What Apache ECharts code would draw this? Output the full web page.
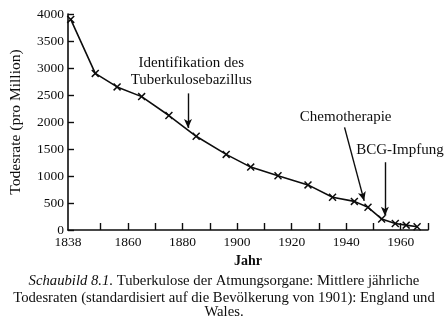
<!DOCTYPE html>
<html>
<head>
<meta charset="utf-8">
<script src="https://cdn.jsdelivr.net/npm/echarts@6/dist/echarts.min.js"></script>
<style>html,body{margin:0;padding:0;background:#fff;}#c{width:448px;height:330px;}</style>
</head>
<body>
<div id="c"></div>
<script>
const years = [1839, 1848, 1856, 1865, 1875, 1885, 1896, 1905, 1915, 1926, 1935, 1943, 1948, 1953, 1958, 1962, 1966];
const rates = [3900, 2900, 2650, 2470, 2120, 1735, 1400, 1165, 1005, 835, 605, 530, 420, 205, 120, 90, 60];
const xTickValues = [1850, 1860, 1870, 1880, 1890, 1900, 1910, 1920, 1930, 1940, 1950, 1960, 1970];
const xLabelValues = [1838, 1860, 1880, 1900, 1920, 1940, 1960];
const annotations = [
  { text: 'Identifikation des\nTuberkulosebazillus', at: [1883.2, 2925], from: [1882, 2530], to: [1882, 1890] },
  { text: 'Chemotherapie', at: [1939.8, 2090], from: [1939.4, 1900], to: [1946.6, 540] },
  { text: 'BCG-Impfung', at: [1959.7, 1475], from: [1954.2, 1255], to: [1954.2, 265] }
];
const FONT = '"Liberation Serif", "DejaVu Serif", serif';
const INK = '#0d0d0d';

const chart = echarts.init(document.getElementById('c'), null, { renderer: 'canvas' });
const xShape = 'path://M0,1.3L1.3,0L10,8.7L8.7,10Z M8.7,0L10,1.3L1.3,10L0,8.7Z';

chart.setOption({
  backgroundColor: '#fff',
  animation: false,
  grid: { left: 62, right: 20, top: 14, bottom: 100 },
  xAxis: {
    type: 'value', min: 1838, max: 1970,
    name: 'Jahr', nameLocation: 'middle', nameGap: 21,
    nameTextStyle: { fontFamily: FONT, fontSize: 14, color: INK, fontWeight: 'bold' },
    axisLine: { show: true, lineStyle: { color: INK, width: 1.6 } },
    axisTick: { show: true, inside: true, length: 7, customValues: xTickValues, lineStyle: { color: INK, width: 1.4 } },
    axisLabel: { customValues: xLabelValues, fontFamily: FONT, fontSize: 13.5, color: INK, margin: 5, formatter: v => String(v) },
    splitLine: { show: false }
  },
  yAxis: {
    type: 'value', min: 0, max: 4000, interval: 500,
    name: 'Todesrate (pro Million)', nameLocation: 'middle', nameGap: 44, nameRotate: 90,
    nameTextStyle: { fontFamily: FONT, fontSize: 15.5, color: INK },
    axisLine: { show: true, lineStyle: { color: INK, width: 1.6 } },
    axisTick: { show: true, inside: true, length: 6, lineStyle: { color: INK, width: 1.4 } },
    axisLabel: { fontFamily: FONT, fontSize: 13.5, color: INK, margin: 4, formatter: v => String(v) },
    splitLine: { show: false }
  },
  series: [{
    type: 'line',
    data: years.map((y, i) => [y, rates[i]]),
    symbol: xShape, symbolSize: 8, showAllSymbol: true,
    lineStyle: { color: INK, width: 1.6 },
    itemStyle: { color: INK },
    markPoint: {
      symbol: 'circle', symbolSize: 0, silent: true,
      label: { show: true, position: 'inside', fontFamily: FONT, fontSize: 15, color: INK, lineHeight: 17, align: 'center', verticalAlign: 'middle', formatter: p => p.name },
      data: annotations.map(a => ({ name: a.text, coord: a.at }))
    },
    markLine: {
      silent: true, symbol: ['none', 'arrow'], symbolSize: [6, 9],
      lineStyle: { color: INK, width: 1.4, type: 'solid' },
      label: { show: false },
      data: annotations.map(a => [{ coord: a.from }, { coord: a.to }])
    }
  }],
  graphic: [
    { type: 'text', left: 'center', top: 274, style: { rich: { i: { fontStyle: 'italic', fontFamily: FONT, fontSize: 14.7, fill: INK }, n: { fontFamily: FONT, fontSize: 14.7, fill: INK } }, text: '{i|Schaubild 8.1.}{n| Tuberkulose der Atmungsorgane: Mittlere jährliche}' } },
    { type: 'text', left: 'center', top: 290.5, style: { text: 'Todesraten (standardisiert auf die Bevölkerung von 1901): England und', fontFamily: FONT, fontSize: 14.7, fill: INK } },
    { type: 'text', left: 'center', top: 304.5, style: { text: 'Wales.', fontFamily: FONT, fontSize: 14.7, fill: INK } }
  ]
});
</script>
</body>
</html>
